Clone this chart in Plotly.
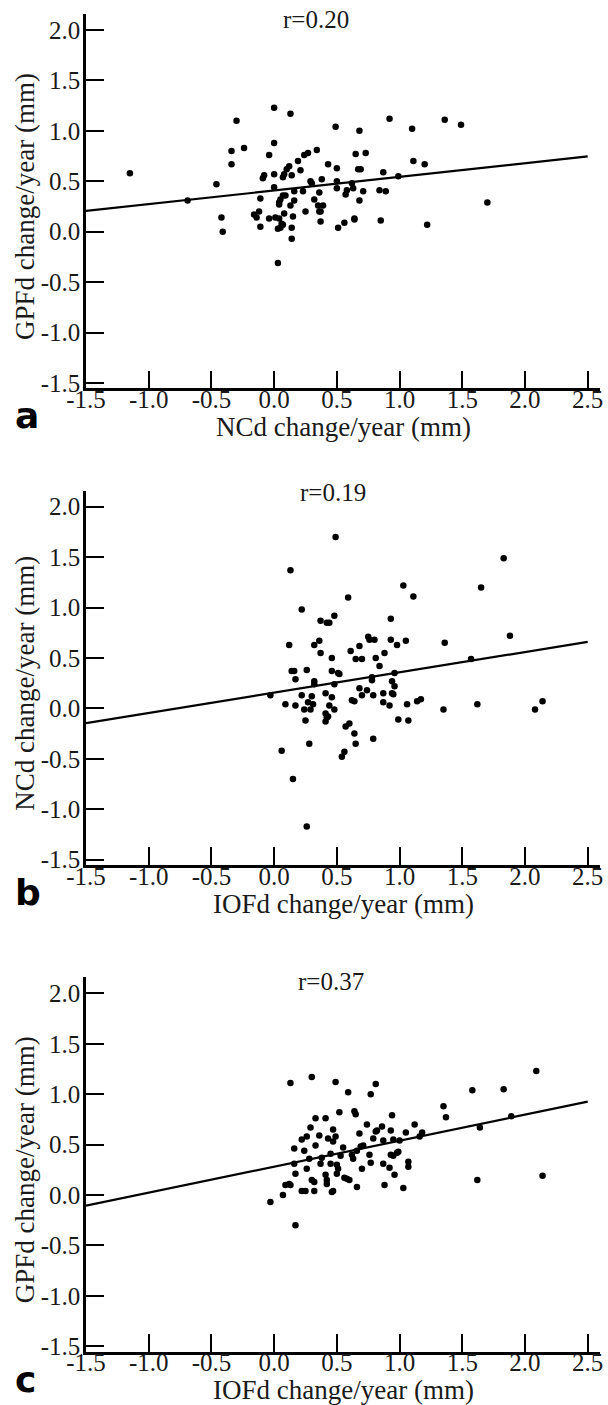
import numpy as np
import plotly.graph_objects as go

# ---------------- data ----------------
a_x = [-1.15, -0.69, -0.46, -0.42, -0.41, -0.30, -0.34, -0.34, -0.24, 0.00, 0.00, 0.13, -0.04, -0.09,
       -0.08, 0.00, 0.00, -0.11, -0.16, -0.14, -0.12, -0.11, -0.04, 0.01, 0.03, 0.04, 0.04, 0.05, 0.04,
       0.03, 0.05, 0.06, 0.08, 0.07, 0.07, 0.09, 0.07, 0.08, 0.10, 0.12, 0.13, 0.14, 0.14, 0.14, 0.15,
       0.16, 0.16, 0.19, 0.21, 0.23, 0.25, 0.24, 0.27, 0.29, 0.30, 0.32, 0.34, 0.35, 0.36, 0.36, 0.37,
       0.37, 0.38, 0.39, 0.43, 0.49, 0.50, 0.50, 0.50, 0.51, 0.56, 0.57, 0.58, 0.62, 0.63, 0.64, 0.64,
       0.65, 0.67, 0.69, 0.68, 0.68, 0.71, 0.73, 0.84, 0.85, 0.87, 0.89, 0.92, 0.99, 1.10, 1.11, 1.20,
       1.22, 1.36, 1.49, 1.70]
a_y = [0.58, 0.31, 0.47, 0.14, 0.00, 1.10, 0.80, 0.67, 0.83, 1.23, 0.88, 1.17, 0.76, 0.53,
       0.56, 0.57, 0.44, 0.33, 0.17, 0.14, 0.20, 0.05, 0.13, 0.14, -0.31, 0.29, 0.27, 0.32, 0.13,
       0.03, 0.04, 0.08, 0.18, 0.07, 0.36, 0.36, 0.54, 0.57, 0.62, 0.65, 0.26, 0.56, 0.04, -0.07, 0.15,
       0.31, 0.40, 0.70, 0.61, 0.40, 0.20, 0.76, 0.78, 0.50, 0.48, 0.32, 0.81, 0.26, 0.39, 0.20, 0.20,
       0.10, 0.52, 0.26, 0.67, 1.04, 0.63, 0.50, 0.43, 0.04, 0.09, 0.37, 0.41, 0.48, 0.43, 0.13, 0.12,
       0.77, 0.62, 0.62, 1.00, 0.31, 0.40, 0.78, 0.41, 0.11, 0.59, 0.40, 1.12, 0.55, 1.02, 0.70, 0.67,
       0.07, 1.11, 1.06, 0.29]

b_x = [-0.03, 0.09, 0.12, 0.13, 0.14, 0.16, 0.17, 0.17, 0.15, 0.06, 0.22, 0.22, 0.24, 0.25, 0.26,
       0.27, 0.28, 0.26, 0.29, 0.30, 0.31, 0.32, 0.32, 0.32, 0.36, 0.37, 0.37, 0.41, 0.41, 0.42, 0.41,
       0.43, 0.42, 0.44, 0.44, 0.46, 0.46, 0.46, 0.48, 0.48, 0.49, 0.48, 0.51, 0.52, 0.54, 0.56, 0.57,
       0.59, 0.60, 0.61, 0.62, 0.64, 0.64, 0.65, 0.65, 0.68, 0.68, 0.70, 0.70, 0.74, 0.75, 0.76, 0.78,
       0.78, 0.79, 0.79, 0.80, 0.81, 0.84, 0.87, 0.87, 0.88, 0.92, 0.93, 0.93, 0.94, 0.94, 0.95, 0.96,
       0.96, 0.98, 0.99, 1.03, 1.05, 1.06, 1.07, 1.11, 1.14, 1.17, 1.35, 1.36, 1.57, 1.62, 1.65, 1.83,
       1.88, 2.08, 2.14]
b_y = [0.13, 0.04, 0.63, 1.37, 0.37, 0.37, 0.29, 0.03, -0.70, -0.42, 0.98, 0.13, -0.01, -0.12, 0.38,
       0.06, -0.35, -1.17, -0.01, 0.12, 0.04, 0.63, 0.27, 0.24, 0.67, 0.55, 0.87, 0.15, -0.05, -0.09,
       -0.13, -0.08, 0.85, 0.85, 0.03, 0.50, 0.37, 0.11, 0.92, -0.01, 1.70, 0.24, 0.35, 0.34, -0.48,
       -0.43, -0.18, 1.10, -0.15, 0.57, 0.08, 0.07, -0.25, -0.35, 0.49, 0.62, 0.20, 0.13, 0.49, 0.18,
       0.71, 0.68, 0.31, 0.28, -0.30, 0.13, 0.68, 0.50, 0.42, 0.15, 0.06, 0.55, 0.03, 0.89, 0.68, 0.27,
       0.15, 0.14, 0.35, 0.22, 0.63, -0.11, 1.22, 0.67, 0.04, -0.12, 1.11, 0.07, 0.09, -0.01, 0.65,
       0.49, 0.04, 1.20, 1.49, 0.72, -0.01, 0.07]

c_x = [-0.03, 0.07, 0.09, 0.12, 0.13, 0.13, 0.16, 0.16, 0.17, 0.17, 0.22, 0.22, 0.24, 0.25, 0.26,
       0.26, 0.28, 0.29, 0.30, 0.30, 0.32, 0.32, 0.33, 0.33, 0.36, 0.38, 0.37, 0.41, 0.41, 0.42, 0.42,
       0.43, 0.45, 0.45, 0.46, 0.47, 0.47, 0.47, 0.49, 0.49, 0.50, 0.50, 0.51, 0.52, 0.53, 0.55, 0.56,
       0.58, 0.59, 0.60, 0.62, 0.63, 0.64, 0.65, 0.66, 0.66, 0.68, 0.69, 0.70, 0.71, 0.74, 0.76, 0.77,
       0.77, 0.79, 0.81, 0.81, 0.82, 0.86, 0.87, 0.87, 0.88, 0.92, 0.93, 0.93, 0.94, 0.95, 0.95, 0.96,
       0.98, 0.99, 1.00, 1.03, 1.05, 1.07, 1.07, 1.12, 1.16, 1.18, 1.35, 1.37, 1.58, 1.62, 1.64, 1.83,
       1.89, 2.09, 2.14]
c_y = [-0.07, 0.00, 0.10, 0.11, 0.10, 1.11, 0.46, 0.31, 0.21, -0.30, 0.55, 0.04, 0.44, 0.04, 0.58,
       0.26, 0.36, 0.67, 1.17, 0.15, 0.13, 0.04, 0.76, 0.49, 0.59, 0.37, 0.31, 0.76, 0.20, 0.15, 0.11,
       0.56, 0.31, 0.41, 0.03, 0.04, 0.65, 0.53, 1.12, 0.58, 0.30, 0.21, 0.26, 0.82, 0.39, 0.47, 0.17,
       0.16, 1.02, 0.15, 0.40, 0.36, 0.83, 0.80, 0.08, 0.44, 0.61, 0.48, 0.26, 0.49, 0.70, 0.40, 1.00,
       0.32, 0.56, 1.10, 0.63, 0.64, 0.68, 0.54, 0.31, 0.10, 0.27, 0.64, 0.40, 0.79, 0.55, 0.39, 0.20,
       0.42, 0.43, 0.54, 0.07, 0.62, 0.33, 0.28, 0.70, 0.58, 0.62, 0.88, 0.77, 1.04, 0.15, 0.67, 1.05,
       0.78, 1.23, 0.19]

r_labels = ["r=0.20", "r=0.19", "r=0.37"]
x_titles = ["NCd change/year (mm)", "IOFd change/year (mm)", "IOFd change/year (mm)"]
y_titles = ["GPFd change/year (mm)", "NCd change/year (mm)", "GPFd change/year (mm)"]
panel_tags = ["a", "b", "c"]

x_tick_vals = [-1.5, -1.0, -0.5, 0.0, 0.5, 1.0, 1.5, 2.0, 2.5]
x_tick_text = ["-1.5", "-1.0", "-0.5", "0.0", "0.5", "1.0", "1.5", "2.0", "2.5"]
y_tick_vals = [-1.5, -1.0, -0.5, 0.0, 0.5, 1.0, 1.5, 2.0]
y_tick_text = ["-1.5", "-1.0", "-0.5", "0.0", "0.5", "1.0", "1.5", "2.0"]

# ---------------- layout helpers ----------------
W, H = 608, 1405
SERIF = "Liberation Serif"
INK = "#1a1a1a"

def px_x(p):
    return p / W

def px_y(p):
    return 1 - p / H

panel_offsets = [0.0, 476.7, 963.3]
r_pos = [(316, 19), (333, 492), (331, 982)]
datasets = [(a_x, a_y), (b_x, b_y), (c_x, c_y)]

fig = go.Figure()
layout = dict(
    width=W, height=H,
    margin=dict(l=0, r=0, t=0, b=0, autoexpand=False),
    paper_bgcolor="white", plot_bgcolor="white",
    showlegend=False,
    annotations=[],
)

for i, ((xs, ys), off) in enumerate(zip(datasets, panel_offsets)):
    n = "" if i == 0 else str(i + 1)
    xa, ya = "x" + n, "y" + n
    xs_arr = np.array(xs)
    ys_arr = np.array(ys)
    slope, intercept = np.polyfit(xs_arr, ys_arr, 1)
    line_x = np.array([x_tick_vals[0], x_tick_vals[-1]])
    fig.add_trace(go.Scatter(x=xs_arr, y=ys_arr, mode="markers", xaxis=xa, yaxis=ya,
                             marker=dict(size=6.5, color="black"), hoverinfo="skip",
                             cliponaxis=False))
    fig.add_trace(go.Scatter(x=line_x, y=intercept + slope * line_x, mode="lines",
                             xaxis=xa, yaxis=ya, line=dict(color="black", width=2.2),
                             hoverinfo="skip"))
    top, bottom = 14 + off, 388.3 + off
    common = dict(showline=True, linecolor="black", linewidth=2.5, ticks="inside",
                  ticklen=18, tickwidth=2, tickcolor="black", showgrid=False,
                  zeroline=False, automargin=False,
                  tickfont=dict(family=SERIF, size=25, color=INK))
    layout["xaxis" + n] = dict(domain=[px_x(86), px_x(600)], range=[-1.5, 2.598],
                               anchor=ya, tickmode="array", tickvals=x_tick_vals,
                               ticktext=x_tick_text, ticklabelstandoff=-13, **common)
    layout["yaxis" + n] = dict(domain=[px_y(bottom), px_y(top)], range=[-1.553, 2.159],
                               anchor=xa, tickmode="array", tickvals=y_tick_vals,
                               ticktext=y_tick_text, ticklabelstandoff=-2, **common)
    rx, ry = r_pos[i]
    layout["annotations"] += [
        dict(text=r_labels[i], x=px_x(rx), y=px_y(ry), xref="paper", yref="paper",
             showarrow=False, xanchor="center", yanchor="middle",
             font=dict(family=SERIF, size=25, color=INK)),
        dict(text=x_titles[i], x=px_x(343), y=px_y(427 + off), xref="paper", yref="paper",
             showarrow=False, xanchor="center", yanchor="middle",
             font=dict(family=SERIF, size=27, color=INK)),
        dict(text=y_titles[i], x=px_x(25), y=px_y(207 + off), xref="paper", yref="paper",
             showarrow=False, xanchor="center", yanchor="middle", textangle=-90,
             font=dict(family=SERIF, size=27, color=INK)),
        dict(text="<b>" + panel_tags[i] + "</b>", x=px_x(13), y=px_y(416 + off),
             xref="paper", yref="paper", showarrow=False, xanchor="left", yanchor="middle",
             font=dict(family="DejaVu Sans", size=36, color="black")),
    ]

fig.update_layout(**layout)
fig.write_html("out.html", config={"displayModeBar": False},
               post_script="document.body.style.margin='0';document.body.style.overflow='hidden';")
